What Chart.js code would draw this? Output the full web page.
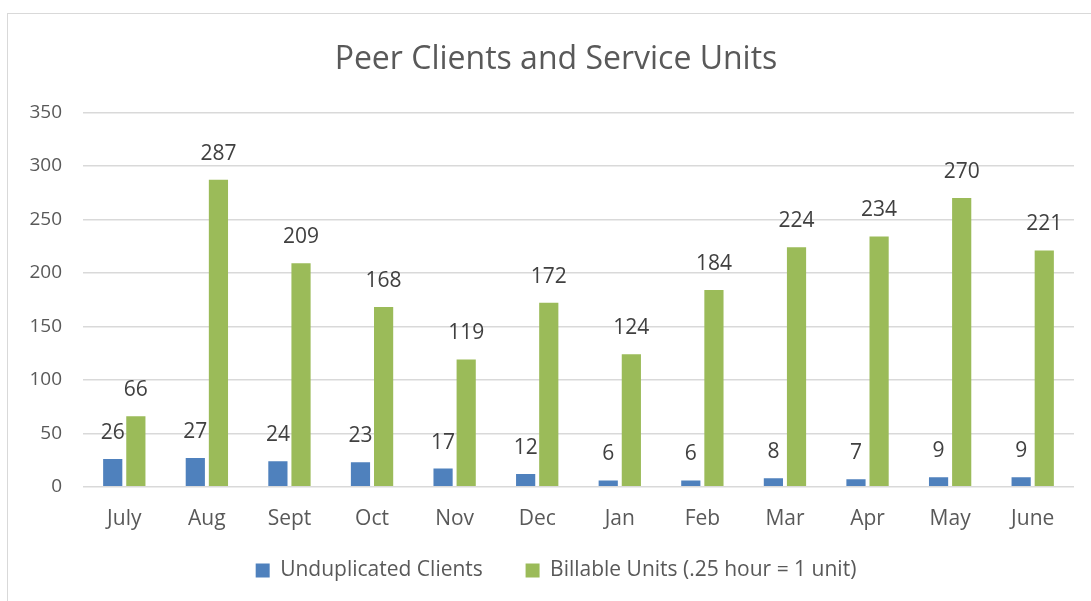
<!DOCTYPE html>
<html>
<head>
<meta charset="utf-8">
<script src="https://cdn.jsdelivr.net/npm/chart.js@4"></script>
<style>
    html, body { margin: 0; padding: 0; background: #ffffff; overflow: hidden; }
    #clip { position: absolute; left: 0; top: 0; width: 1091px; height: 601px; overflow: hidden; }
    #wrap { position: absolute; left: 0; top: 0; width: 1112px; height: 601px; }
</style>
</head>
<body>
<div id="clip"><div id="wrap"><canvas id="peerChart"></canvas></div></div>
<script>
const months = ['July', 'Aug', 'Sept', 'Oct', 'Nov', 'Dec', 'Jan', 'Feb', 'Mar', 'Apr', 'May', 'June'];
const clients = [26, 27, 24, 23, 17, 12, 6, 6, 8, 7, 9, 9];
const billableUnits = [66, 287, 209, 168, 119, 172, 124, 184, 224, 234, 270, 221];
const yTicks = [0, 50, 100, 150, 200, 250, 300, 350];

const FONT = "'Open Sans', 'Noto Sans', sans-serif";

// outer chart border like the Excel chart frame
const framePlugin = {
    id: 'frame',
    beforeDraw(chart) {
        const ctx = chart.ctx;
        ctx.save();
        ctx.fillStyle = '#ffffff';
        ctx.fillRect(0, 0, chart.width, chart.height);
        ctx.strokeStyle = '#d9d9d9';
        ctx.lineWidth = 1;
        ctx.strokeRect(7.5, 13.5, chart.width + 20, chart.height + 20);
        ctx.restore();
    }
};

// value labels above each bar
const valueLabels = {
    id: 'valueLabels',
    afterDatasetsDraw(chart) {
        const ctx = chart.ctx;
        ctx.save();
        ctx.font = '21px ' + FONT;
        ctx.fillStyle = '#404040';
        ctx.textAlign = 'center';
        ctx.textBaseline = 'middle';
        chart.data.datasets.forEach((ds, i) => {
            chart.getDatasetMeta(i).data.forEach((bar, j) => {
                ctx.fillText(String(ds.data[j]), bar.x, bar.y - 26);
            });
        });
        ctx.restore();
    }
};

new Chart(document.getElementById('peerChart').getContext('2d'), {
    type: 'bar',
    data: {
        labels: months,
        datasets: [{
            label: 'Unduplicated Clients',
            data: clients,
            backgroundColor: '#4f81bd',
            barPercentage: 0.83,
            categoryPercentage: 0.56
        }, {
            label: 'Billable Units (.25 hour = 1 unit)',
            data: billableUnits,
            backgroundColor: '#9bbb59',
            barPercentage: 0.83,
            categoryPercentage: 0.56
        }]
    },
    options: {
        responsive: true,
        maintainAspectRatio: false,
        animation: false,
        layout: {
            padding: { left: 0, right: 0, top: 0, bottom: 10 }
        },
        plugins: {
            title: {
                display: true,
                text: 'Peer Clients and Service Units',
                color: '#595959',
                font: { family: FONT, size: 32, weight: 'normal' },
                padding: { top: 41, bottom: 33 }
            },
            legend: {
                position: 'bottom',
                labels: {
                    color: '#595959',
                    font: { family: FONT, size: 21 },
                    boxWidth: 14,
                    boxHeight: 14,
                    padding: 10,
                    // wider gap between the two entries, as in the original
                    generateLabels(chart) {
                        const items = Chart.defaults.plugins.legend.labels.generateLabels(chart);
                        items[0].text = items[0].text + '      ';
                        return items;
                    }
                }
            },
            tooltip: { enabled: false }
        },
        scales: {
            x: {
                afterFit(scale) {
                    scale.height += 6;
                },
                grid: { display: false },
                border: { display: false },
                ticks: {
                    color: '#595959',
                    font: { family: FONT, size: 21 },
                    padding: 12
                }
            },
            y: {
                min: 0,
                max: 350,
                afterBuildTicks(scale) {
                    scale.ticks = yTicks.map(v => ({ value: v }));
                },
                afterFit(scale) {
                    scale.width = 83;
                },
                grid: { color: '#d9d9d9', lineWidth: 1.5, drawTicks: false },
                border: { display: false },
                ticks: {
                    color: '#595959',
                    font: { family: FONT, size: 19 },
                    padding: 21
                }
            },
            // empty right axis only keeps the plot's right edge where the original has it
            spacer: {
                type: 'linear',
                position: 'right',
                display: true,
                afterFit(scale) {
                    scale.width = 38;
                },
                grid: { display: false },
                border: { display: false },
                ticks: { display: false }
            }
        }
    },
    plugins: [framePlugin, valueLabels]
});
</script>
</body>
</html>
